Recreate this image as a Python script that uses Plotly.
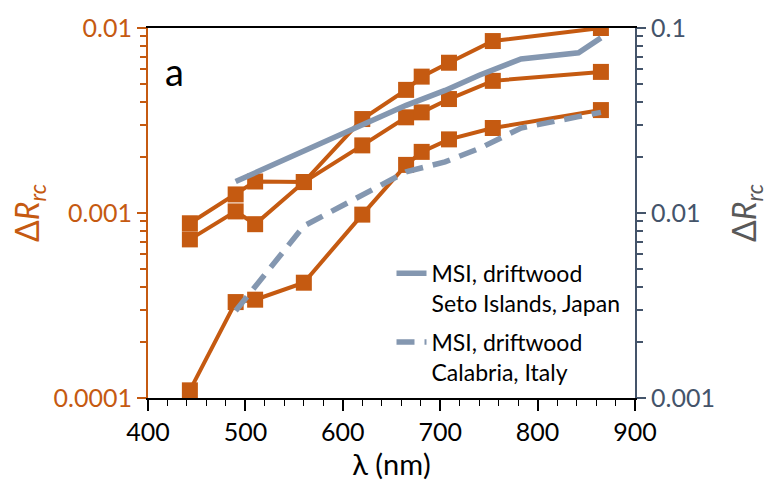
import plotly.graph_objects as go

wl_orange = [443, 490, 510, 560, 620, 665, 681, 709, 754, 865]
s1 = [0.00088, 0.00126, 0.00148, 0.00147, 0.00322, 0.00463, 0.00546, 0.00649, 0.0085, 0.0100]
s2 = [0.00072, 0.00102, 0.00087, 0.00147, 0.00232, 0.00329, 0.0035, 0.00413, 0.00518, 0.00579]
s3 = [0.00011, 0.00033, 0.00034, 0.00042, 0.00098, 0.00182, 0.00214, 0.0025, 0.00288, 0.0036]

wl_msi = [490, 560, 665, 705, 740, 783, 842, 865]
seto = [0.0148, 0.0216, 0.0382, 0.046, 0.0555, 0.068, 0.0734, 0.0884]
calabria = [0.00296, 0.0085, 0.0167, 0.0189, 0.0223, 0.0288, 0.0332, 0.035]

left_ticks = [0.0001, 0.001, 0.01]
left_text = ["0.0001", "0.001", "0.01"]
right_ticks = [0.001, 0.01, 0.1]
right_text = ["0.001", "0.01", "0.1"]

# minor tick positions: 2..9 per decade, every 20 nm
left_minor = [k * 10.0 ** e for e in (-4, -3) for k in range(2, 10)]
right_minor = [k * 10.0 ** e for e in (-3, -2) for k in range(2, 10)]
x_minor = [v for v in range(400, 901, 20) if v % 100]

ORANGE = "#C55A11"
BLUEGRAY = "#8497B0"
SLATE = "#44546A"
FONT = "Lato, Open Sans, sans-serif"

fig = go.Figure()
for s in (s1, s2, s3):
    fig.add_trace(go.Scatter(x=wl_orange, y=s, mode="lines+markers",
                             line=dict(color=ORANGE, width=4),
                             marker=dict(symbol="square", size=16, color=ORANGE),
                             showlegend=False, yaxis="y", hoverinfo="x+y"))

fig.add_trace(go.Scatter(x=wl_msi, y=seto, mode="lines",
                         line=dict(color=BLUEGRAY, width=5.5),
                         name="MSI, driftwood<br>Seto Islands, Japan",
                         legendgroup="a", yaxis="y2"))
fig.add_trace(go.Scatter(x=wl_msi, y=calabria, mode="lines",
                         line=dict(color=BLUEGRAY, width=5.5, dash="18px,10px"),
                         name="MSI, driftwood<br>Calabria, Italy",
                         legendgroup="b", yaxis="y2"))

fig.update_layout(
    width=769, height=499,
    margin=dict(l=148, r=131, t=25, b=101),
    plot_bgcolor="white", paper_bgcolor="white",
    font=dict(family=FONT, size=25, color="black"),
    xaxis=dict(range=[400, 900], dtick=100, tick0=400,
               showline=True, linecolor="black", linewidth=1.5, mirror=True,
               ticks="outside", ticklen=11, tickcolor="black", tickwidth=1.5,
               minor=dict(tickmode="array", tickvals=x_minor, ticks="outside", ticklen=6,
                          tickcolor="black", tickwidth=1.2, showgrid=False),
               showgrid=False, zeroline=False,
               tickfont=dict(size=25, color="black"),
               title=dict(text="λ (nm)", font=dict(size=29, color="black"), standoff=10)),
    yaxis=dict(type="log", range=[-4, -2], tickmode="array", tickvals=left_ticks, ticktext=left_text,
               showline=True, linecolor=ORANGE, linewidth=2,
               ticks="outside", ticklen=9, tickcolor=ORANGE, tickwidth=2,
               minor=dict(tickmode="array", tickvals=left_minor, ticks="outside", ticklen=6,
                          tickcolor=ORANGE, tickwidth=1.5, showgrid=False),
               showgrid=False, zeroline=False,
               tickfont=dict(size=25, color=ORANGE),
               title=dict(text="Δ<i>R<sub>rc</sub></i>", font=dict(size=32, color=ORANGE), standoff=4)),
    yaxis2=dict(type="log", range=[-3, -1], overlaying="y", side="right",
                tickmode="array", tickvals=right_ticks, ticktext=right_text,
                showline=True, linecolor=SLATE, linewidth=2,
                ticks="outside", ticklen=9, tickcolor=SLATE, tickwidth=2,
                minor=dict(tickmode="array", tickvals=right_minor, ticks="outside", ticklen=6,
                           tickcolor=SLATE, tickwidth=1.5, showgrid=False),
                showgrid=False, zeroline=False,
                tickfont=dict(size=25, color=SLATE),
                title=dict(text="Δ<i>R<sub>rc</sub></i>", font=dict(size=32, color="#595959"), standoff=20)),
    legend=dict(x=0.5, y=0.395, xanchor="left", yanchor="top", bgcolor="rgba(0,0,0,0)",
                font=dict(size=23, color="black"), valign="top", tracegroupgap=6),
    annotations=[dict(text="a", xref="paper", yref="paper", x=0.055, y=0.885,
                      xanchor="center", yanchor="middle",
                      showarrow=False, font=dict(size=38, color="black"))],
)

fig.write_html("out.html")
